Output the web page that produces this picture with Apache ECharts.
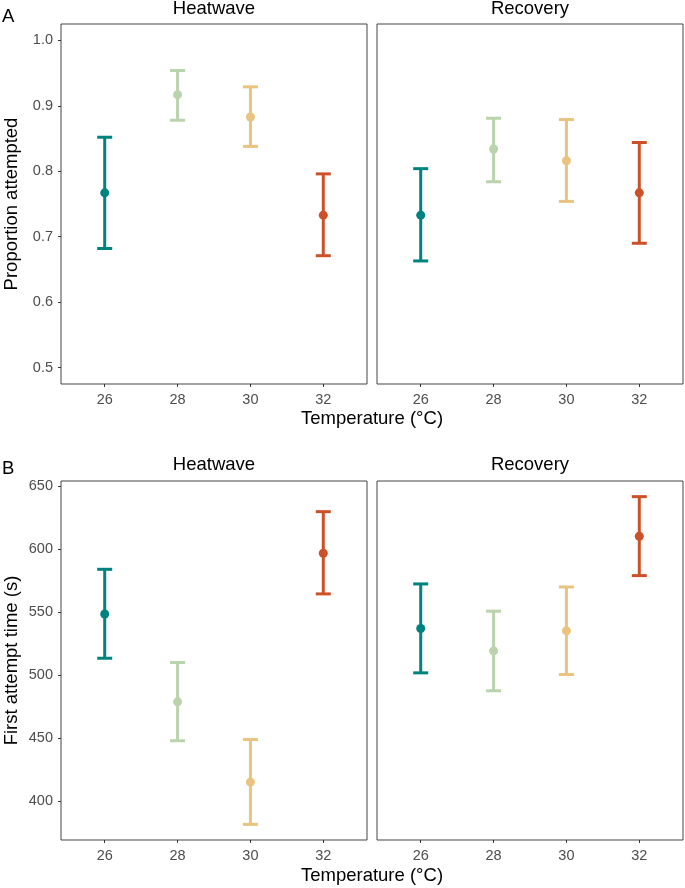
<!DOCTYPE html>
<html>
<head>
<meta charset="utf-8">
<script src="https://cdn.jsdelivr.net/npm/echarts@6/dist/echarts.min.js"></script>
<style>html,body{margin:0;padding:0;background:#fff}#c{width:685px;height:888px}</style>
</head>
<body>
<div id="c"></div>
<script>
var temps = [26, 28, 30, 32];
var colors = ['#00837E', '#B9D3AC', '#EAC37F', '#CD5128'];
var propTicks = [0.5, 0.6, 0.7, 0.8, 0.9, 1.0];
var timeTicks = [400, 450, 500, 550, 600, 650];

var propHeatMean = [0.767, 0.917, 0.883, 0.733];
var propHeatLow  = [0.682, 0.878, 0.838, 0.671];
var propHeatHigh = [0.852, 0.954, 0.929, 0.796];
var propRecMean  = [0.733, 0.834, 0.816, 0.767];
var propRecLow   = [0.663, 0.784, 0.754, 0.690];
var propRecHigh  = [0.804, 0.881, 0.879, 0.844];

var timeHeatMean = [548.6, 478.9, 415.3, 596.7];
var timeHeatLow  = [513.5, 448.1, 381.8, 564.5];
var timeHeatHigh = [584.0, 510.1, 449.1, 629.7];
var timeRecMean  = [537.1, 519.3, 535.2, 610.2];
var timeRecLow   = [501.9, 487.7, 500.6, 579.0];
var timeRecHigh  = [572.4, 550.8, 570.0, 641.6];

var FONT = 'Liberation Sans, Arial, sans-serif';

var grids = [
  {left: 61, top: 24, width: 306, height: 360},
  {left: 377, top: 24, width: 306, height: 360},
  {left: 61, top: 481, width: 306, height: 359},
  {left: 377, top: 481, width: 306, height: 359}
].map(function (g) {
  return Object.assign({show: true, borderColor: '#444', borderWidth: 1, backgroundColor: '#fff', containLabel: false}, g);
});

function xAxis(i) {
  return {
    type: 'value', gridIndex: i, min: 24.8, max: 33.2,
    splitLine: {show: false}, axisLine: {show: false},
    axisTick: {show: true, length: 3, lineStyle: {color: '#333'}, customValues: temps},
    axisLabel: {color: '#4D4D4D', fontSize: 14.5, fontFamily: FONT, margin: 8, customValues: temps}
  };
}
function yAxis(i, min, max, ticks, showLabels, name) {
  return {
    type: 'value', gridIndex: i, min: min, max: max,
    splitLine: {show: false}, axisLine: {show: false},
    axisTick: {show: showLabels, length: 3, lineStyle: {color: '#333'}, customValues: ticks},
    axisLabel: {show: showLabels, color: '#4D4D4D', fontSize: 14.5, fontFamily: FONT, margin: 8, customValues: ticks,
      formatter: function (v) { return min < 2 ? v.toFixed(1) : String(Math.round(v)); }},
    name: name || '', nameLocation: 'middle', nameGap: 40, nameRotate: 90,
    nameTextStyle: {color: '#000', fontSize: 18.5, fontFamily: FONT}
  };
}

function errSeries(i, low, high) {
  return {
    type: 'custom', xAxisIndex: i, yAxisIndex: i,
    data: temps.map(function (t, k) { return [t, low[k], high[k]]; }),
    renderItem: function (params, api) {
      var x = api.value(0);
      var p1 = api.coord([x, api.value(1)]);
      var p2 = api.coord([x, api.value(2)]);
      var c = colors[params.dataIndex];
      var hw = 7.5;
      var st = {stroke: c, lineWidth: 3, fill: null};
      return {type: 'group', children: [
        {type: 'line', shape: {x1: p1[0], y1: p1[1], x2: p2[0], y2: p2[1]}, style: st},
        {type: 'line', shape: {x1: p1[0] - hw, y1: p1[1], x2: p1[0] + hw, y2: p1[1]}, style: st},
        {type: 'line', shape: {x1: p2[0] - hw, y1: p2[1], x2: p2[0] + hw, y2: p2[1]}, style: st}
      ]};
    },
    z: 2
  };
}
function meanSeries(i, mean) {
  return {
    type: 'scatter', xAxisIndex: i, yAxisIndex: i, symbol: 'circle', symbolSize: 9,
    data: temps.map(function (t, k) { return {value: [t, mean[k]], itemStyle: {color: colors[k], opacity: 1}}; }),
    z: 3
  };
}

var txt = function (text, x, y, size, align) {
  return {type: 'text', x: x, y: y, style: {text: text, fill: '#000', font: size + 'px ' + FONT, textAlign: align || 'center', textVerticalAlign: 'middle'}};
};

var option = {
  animation: false,
  grid: grids,
  xAxis: [xAxis(0), xAxis(1), xAxis(2), xAxis(3)],
  yAxis: [
    yAxis(0, 0.475, 1.025, propTicks, true, 'Proportion attempted'),
    yAxis(1, 0.475, 1.025, propTicks, false),
    yAxis(2, 369.4, 654.0, timeTicks, true, 'First attempt time (s)'),
    yAxis(3, 369.4, 654.0, timeTicks, false)
  ],
  series: [
    errSeries(0, propHeatLow, propHeatHigh), meanSeries(0, propHeatMean),
    errSeries(1, propRecLow, propRecHigh), meanSeries(1, propRecMean),
    errSeries(2, timeHeatLow, timeHeatHigh), meanSeries(2, timeHeatMean),
    errSeries(3, timeRecLow, timeRecHigh), meanSeries(3, timeRecMean)
  ],
  graphic: [
    txt('A', 2, 16.5, 18.5, 'left'),
    txt('B', 2, 469, 18.5, 'left'),
    txt('Heatwave', 214, 9, 18.5),
    txt('Recovery', 530, 9, 18.5),
    txt('Heatwave', 214, 465, 18.5),
    txt('Recovery', 530, 465, 18.5),
    txt('Temperature (°C)', 372, 419, 18.5),
    txt('Temperature (°C)', 372, 876, 18.5)
  ]
};
echarts.init(document.getElementById('c'), null, {renderer: 'canvas'}).setOption(option);
</script>
</body>
</html>
